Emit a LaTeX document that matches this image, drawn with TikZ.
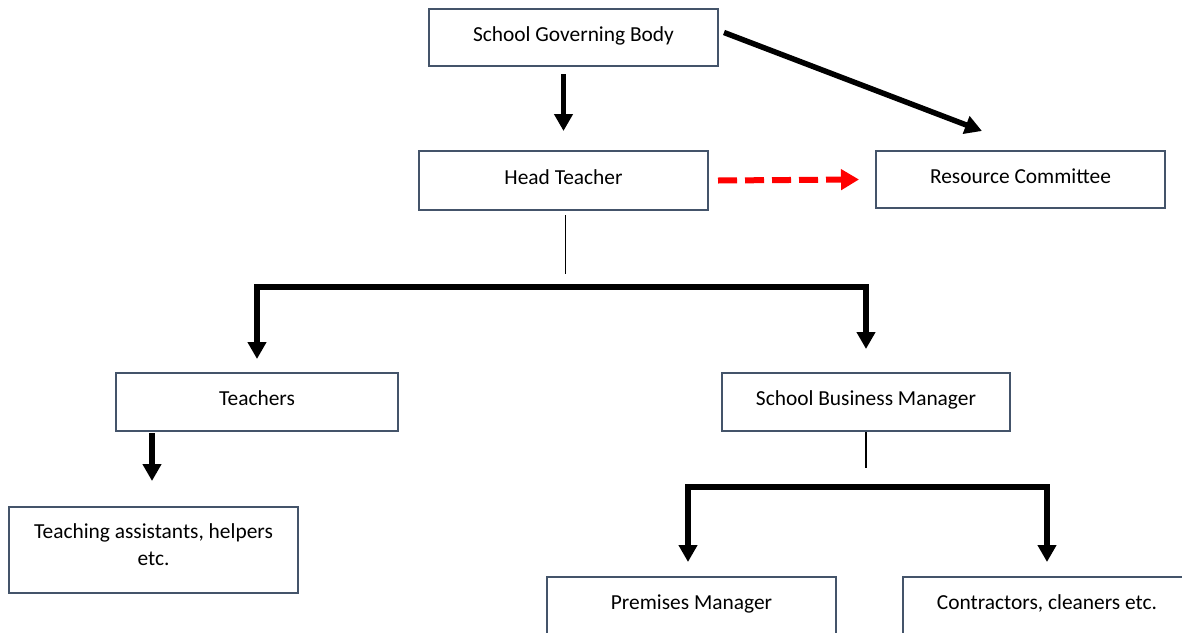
\documentclass[tikz,border=0pt]{standalone}
\usepackage{fontspec}
\setmainfont{Carlito}
\usetikzlibrary{arrows.meta,calc}
\definecolor{boxc}{RGB}{68,84,106}
\definecolor{redc}{RGB}{255,0,0}
\tikzset{
  orgbox/.style={draw=boxc, line width=2pt, rectangle, inner sep=0pt,
    font=\fontsize{21.4}{27}\selectfont, text=black, align=center},
  onebox/.style={orgbox, text height=15pt, text depth=8pt},
  twobox/.style={orgbox, text height=41pt, text depth=11pt},
  cutbox/.style={orgbox, anchor=north, inner ysep=10pt, text height=22pt, text depth=50pt},
  bigarrow/.style={line width=5.5pt, line join=miter, draw=black,
    -{Triangle[length=17pt,width=18pt]}},
  twoarrow/.style={line width=5.5pt, line join=miter, draw=black,
    {Triangle[length=17pt,width=18pt]}-{Triangle[length=17pt,width=18pt]}},
  thinline/.style={line width=1.6pt, draw=black},
  reddash/.style={line width=6pt, draw=redc, dash pattern=on 19pt off 8pt,
    -{Triangle[length=18pt,width=20pt,fill=redc]}}
}
\begin{document}
\begin{tikzpicture}[x=1pt,y=-1pt]
\useasboundingbox (0,0) rectangle (1182,632);
\fill[white] (0,0) rectangle (1182,632);
\clip (0,0) rectangle (1182,632);

\node[onebox, minimum width=289pt, minimum height=57pt] (sgb) at (573.5,37.5) {School Governing Body};
\node[onebox, minimum width=289pt, minimum height=59pt] (ht) at (563.5,180.5) {Head Teacher};
\node[onebox, minimum width=289pt, minimum height=57pt] (rc) at (1020.5,179.5) {Resource Committee};
\node[onebox, minimum width=282pt, minimum height=58pt] (teachers) at (257,402) {Teachers};
\node[onebox, minimum width=288pt, minimum height=58pt] (sbm) at (866,402) {School Business Manager};
\node[twobox, minimum width=289pt, minimum height=86pt] (ta) at (153.5,550) {Teaching assistants, helpers\\etc.};
\node[cutbox, minimum width=289pt] (pm) at (691.5,576) {Premises Manager};
\node[cutbox, minimum width=288pt] (cn) at (1047,576) {Contractors, cleaners etc.};

% connectors
\draw[bigarrow, shorten <=7pt, shorten >=19pt] (sgb.south -| ht.north) -- (ht.north);
\draw[bigarrow] ($(sgb.east)+(5,-5)$) -- ($(rc.north)+(-38.5,-19)$);
\draw[reddash] ($(ht.east)+(9,0)$) -- ($(rc.west)+(-16,0)$);

\coordinate (bar1) at ($(ht.south)+(2,76)$);
\draw[thinline] ($(ht.south)+(2,4)$) -- ($(ht.south)+(2,63)$);
\draw[twoarrow] ($(teachers.north)+(0,-13)$) |- (bar1 -| sbm.north) -- ($(sbm.north)+(0,-23)$);

\draw[bigarrow] ($(teachers.south)+(-105,1)$) -- ($(ta.north)+(-1.5,-25)$);

\draw[thinline] (sbm.south) -- ($(sbm.south)+(0,36)$);
\draw[twoarrow] ($(pm.north)+(-3.5,-14)$) |- ($(cn.north)+(0,-89)$) -- ($(cn.north)+(0,-14)$);
\end{tikzpicture}
\end{document}
